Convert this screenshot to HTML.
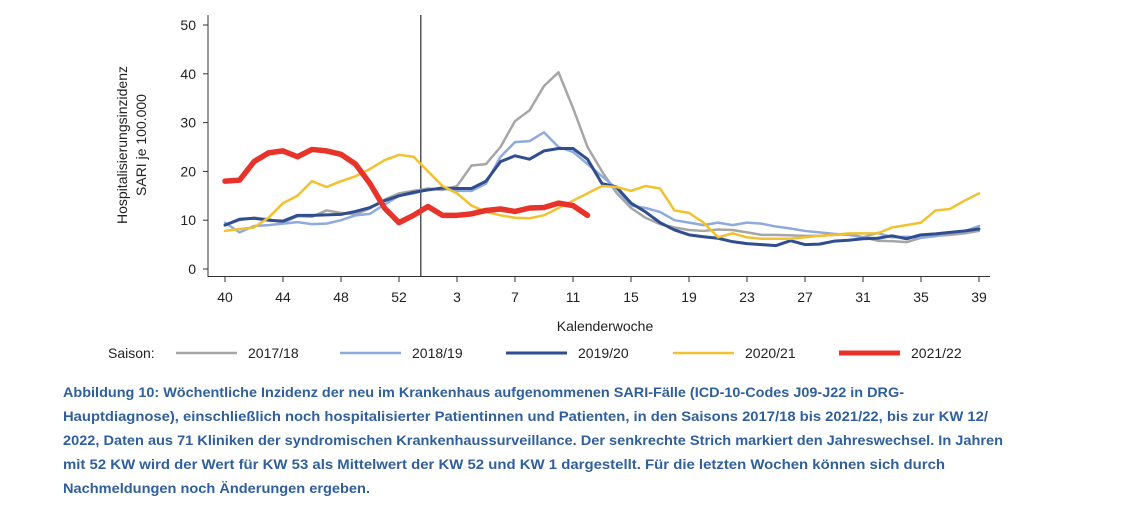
<!DOCTYPE html>
<html><head><meta charset="utf-8"><style>
body{margin:0;background:#fff;width:1125px;height:510px;overflow:hidden;font-family:"Liberation Sans",sans-serif}
</style></head><body>
<svg id="chart" width="1125" height="380" style="position:absolute;left:0;top:0" font-family="Liberation Sans, sans-serif"></svg>
<svg width="1125" height="130" style="position:absolute;left:0;top:380px" font-family="Liberation Sans, sans-serif" font-weight="bold" font-size="14" fill="#2f5f9e">
<text x="63" y="17" textLength="841" lengthAdjust="spacingAndGlyphs">Abbildung 10: Wöchentliche Inzidenz der neu im Krankenhaus aufgenommenen SARI-Fälle (ICD-10-Codes J09-J22 in DRG-</text>
<text x="63" y="41" textLength="925" lengthAdjust="spacingAndGlyphs">Hauptdiagnose), einschließlich noch hospitalisierter Patientinnen und Patienten, in den Saisons 2017/18 bis 2021/22, bis zur KW 12/</text>
<text x="63" y="65" textLength="940" lengthAdjust="spacingAndGlyphs">2022, Daten aus 71 Kliniken der syndromischen Krankenhaussurveillance. Der senkrechte Strich markiert den Jahreswechsel. In Jahren</text>
<text x="63" y="89" textLength="882" lengthAdjust="spacingAndGlyphs">mit 52 KW wird der Wert für KW 53 als Mittelwert der KW 52 und KW 1 dargestellt. Für die letzten Wochen können sich durch</text>
<text x="63" y="113" textLength="307" lengthAdjust="spacingAndGlyphs">Nachmeldungen noch Änderungen ergeben.</text>
</svg>
<script>
const yTicks=[0,10,20,30,40,50];
const xTickLabels=["40","44","48","52","3","7","11","15","19","23","27","31","35","39"];
const seasons=["2017/18","2018/19","2019/20","2020/21","2021/22"];
const s1718=[9,10,10.5,10.2,9.5,10.8,10.7,12,11.5,11.2,12.4,14.2,15.5,16,16.5,16.2,17,21.2,21.5,25,30.3,32.5,37.5,40.3,33,25,20,15.6,12.5,10.5,9.2,8.5,8,7.8,8.1,8,7.5,7,7,6.9,6.8,6.8,7,7.2,6.5,5.8,5.7,5.5,6.4,6.8,7,7.3,7.8];
const s1819=[9.5,7.5,8.8,9,9.3,9.6,9.2,9.3,10,11,11.3,13.2,15,15.5,16.3,16.5,16,16,17.5,23,26,26.2,28,25,24,21.5,19,16.5,13,12.5,11.7,10,9.5,9,9.5,9,9.5,9.3,8.7,8.3,7.8,7.5,7.2,7,6.5,7.4,6.5,6.6,6.4,6.7,7.5,7.7,8.8];
const s1920=[9,10.2,10.4,10,9.8,11,11,11.1,11.2,11.8,12.6,14,15,15.7,16.2,16.6,16.5,16.5,18,22,23.2,22.5,24.2,24.7,24.7,22.5,17.5,16.8,13.5,11.7,9.5,8,7,6.6,6.3,5.6,5.2,5,4.8,5.8,5,5.1,5.7,5.9,6.2,6.3,6.8,6.2,7,7.2,7.5,7.8,8.2];
const s2021=[7.8,8.2,8.5,10.5,13.5,15,18,16.8,18,19,20.5,22.3,23.4,23,20,17,15.5,13,11.7,11,10.5,10.4,11,12.5,14,15.5,17,16.8,16,17,16.5,12,11.5,9.5,6.5,7.3,6.5,6.2,6.2,6.2,6.5,6.8,7,7.3,7.3,7.3,8.5,9,9.5,12,12.3,14,15.5];
const s2122=[18,18.2,22,23.8,24.2,23,24.5,24.2,23.5,21.5,17.5,12.5,9.5,11,12.8,11,11,11.3,12,12.3,11.8,12.5,12.6,13.5,13,11];
const NS="http://www.w3.org/2000/svg",svg=document.getElementById('chart');
const X=i=>225+i*14.5, Y=v=>269-v*4.88;
function el(t,a,p){const e=document.createElementNS(NS,t);for(const k in a)e.setAttribute(k,a[k]);(p||svg).appendChild(e);return e}
let e;
e=el('line',{x1:208,y1:15,x2:208,y2:277,stroke:'#333','stroke-width':1});


e=el('line',{x1:208,y1:276.5,x2:990,y2:276.5,stroke:'#333','stroke-width':1});


yTicks.forEach(v=>{
 el('line',{x1:203,y1:Y(v),x2:208,y2:Y(v),stroke:'#333'});
 e=el('text',{x:196,y:Y(v)+5,'text-anchor':'end','font-size':14,fill:'#222'});e.textContent=v;
 
 
});
xTickLabels.forEach((l,k)=>{
 const x=X(k*4);
 el('line',{x1:x,y1:276,x2:x,y2:282,stroke:'#333'});
 e=el('text',{x:x,y:302,'text-anchor':'middle','font-size':14,fill:'#222'});e.textContent=l;
 
 
});
e=el('line',{x1:X(13.5),y1:15,x2:X(13.5),y2:276,stroke:'#555','stroke-width':1.5});


e=el('text',{x:605,y:331,'text-anchor':'middle','font-size':14,fill:'#222'});e.textContent='Kalenderwoche';


const g=el('g',{transform:'translate(133,145) rotate(-90)'});


e=el('text',{x:0,y:-6,'text-anchor':'middle','font-size':14,fill:'#222'},g);e.textContent='Hospitalisierungsinzidenz';
e=el('text',{x:0,y:13,'text-anchor':'middle','font-size':14,fill:'#222'},g);e.textContent='SARI je 100.000';
const data=[s1718,s1819,s1920,s2021,s2122];
const cols=['#a6a6a6','#8faadc','#2f4d8f','#f2c12e','#e8332a'];
const wid=[2.5,2.5,3,2.5,5.5];
const names=['line-2017-18','line-2018-19','line-2019-20','line-2020-21','line-2021-22'];
data.forEach((d,s)=>{
 e=el('polyline',{points:d.map((v,i)=>X(i)+','+Y(v)).join(' '),fill:'none',stroke:cols[s],'stroke-width':wid[s],'stroke-linejoin':'round','stroke-linecap':'round'});
 
 
});
e=el('text',{x:108,y:358,'font-size':14,fill:'#222'});e.textContent='Saison:';


const lx=[176,340,506,673,839];
const lw=[2.5,2.5,3,2.5,5];
seasons.forEach((n,s)=>{
 const lg=el('g',{});
 
 
 el('line',{x1:lx[s],y1:353,x2:lx[s]+61,y2:353,stroke:cols[s],'stroke-width':lw[s]},lg);
 e=el('text',{x:lx[s]+72,y:358,'font-size':14,fill:'#222'},lg);e.textContent=n;
});
</script>
</body></html>
